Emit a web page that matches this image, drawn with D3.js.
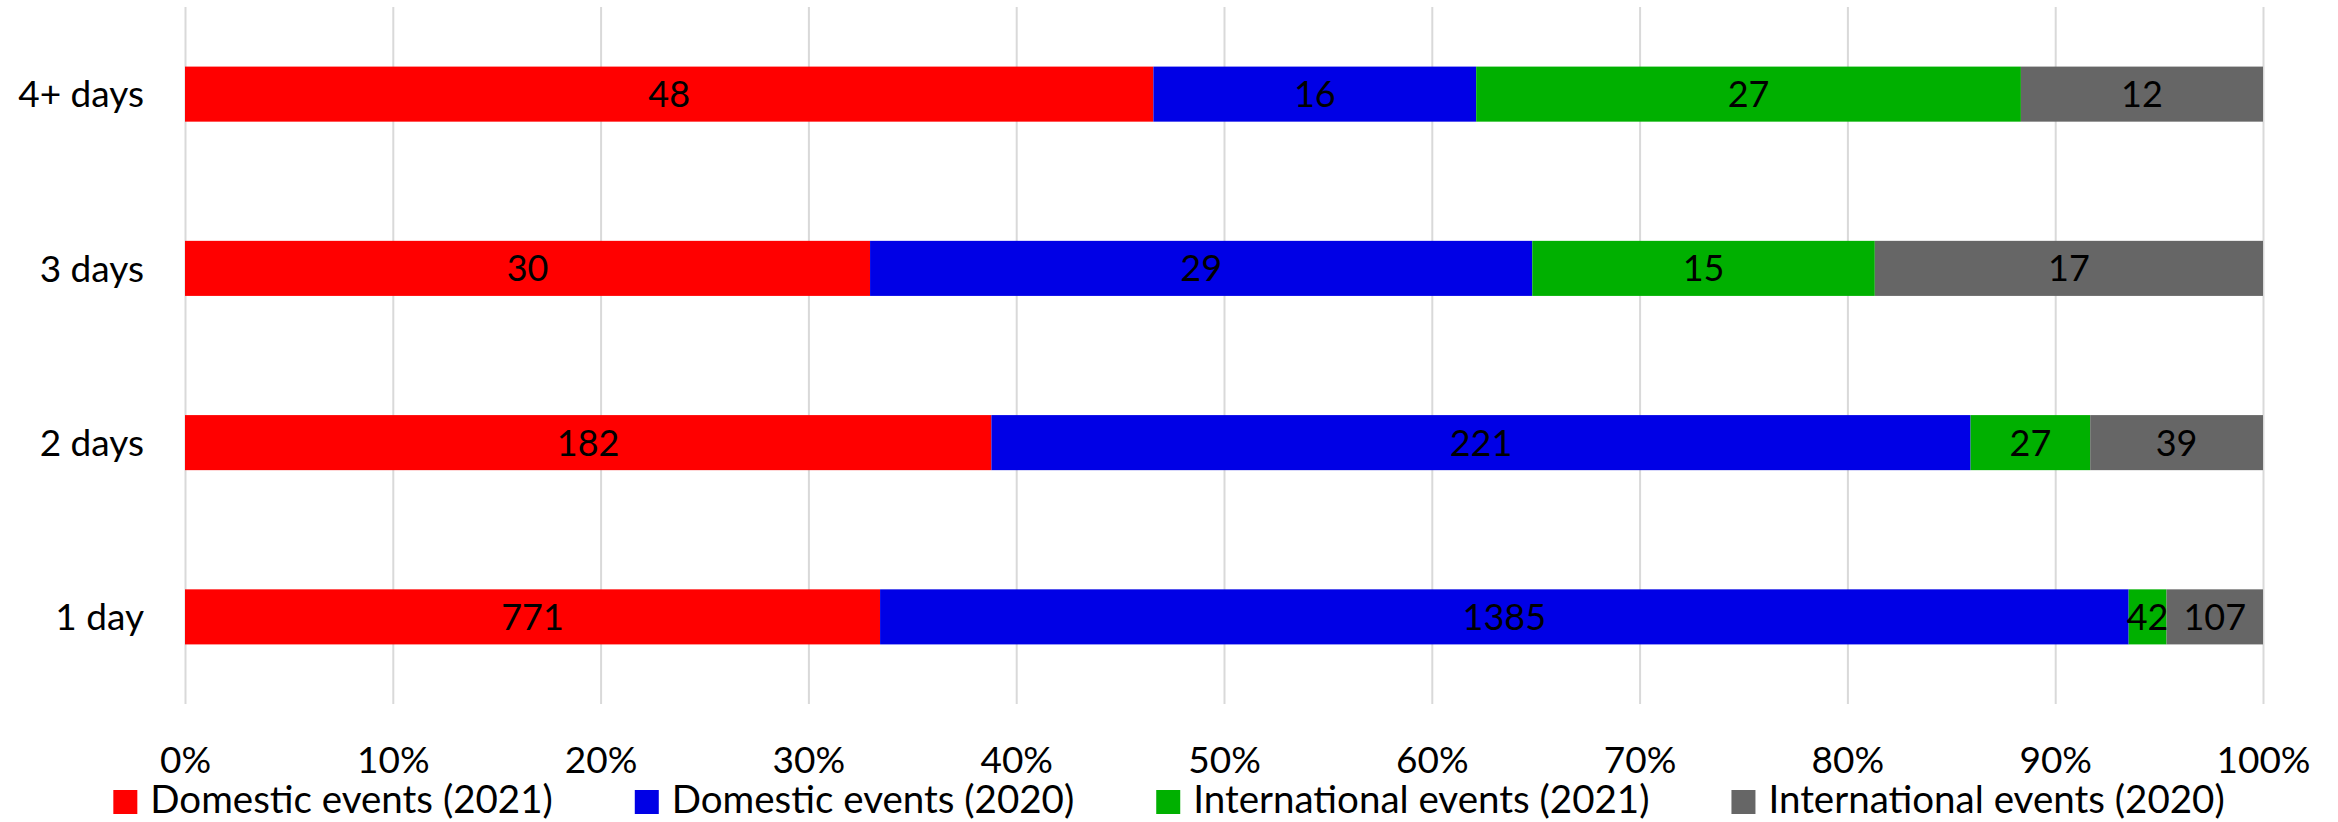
<!DOCTYPE html>
<html>
<head>
<meta charset="utf-8">
<script src="https://cdn.jsdelivr.net/npm/d3@7"></script>
<style>
  body { margin: 0; background: #fff; }
  text { font-family: Lato, "Noto Sans", sans-serif; fill: #000; }
</style>
</head>
<body>
<div id="chart"></div>
<script>
// Data
const categories = ['1 day', '2 days', '3 days', '4+ days'];
const seriesNames = ['Domestic events (2021)', 'Domestic events (2020)', 'International events (2021)', 'International events (2020)'];
const domestic2021 = [771, 182, 30, 48];
const domestic2020 = [1385, 221, 29, 16];
const international2021 = [42, 27, 15, 27];
const international2020 = [107, 39, 17, 12];
const tickValues = [0, 0.1, 0.2, 0.3, 0.4, 0.5, 0.6, 0.7, 0.8, 0.9, 1];

const colors = ['#ff0000', '#0000e6', '#00b000', '#666666'];

// Layout
const width = 2338;
const height = 822;
const margin = { top: 7, left: 185, right: 75, bottom: 118 };
const innerWidth = width - margin.left - margin.right;
const innerHeight = height - margin.top - margin.bottom;
const fontSize = 36;
const legendFontSize = 38.5;

const svg = d3.select('#chart')
    .append('svg')
        .attr('width', width)
        .attr('height', height);

const chartGroup = svg.append('g')
    .attr('transform', `translate(${margin.left}, ${margin.top})`);

// build rows, each row = one category
const table = categories.map((c, i) => {
    const row = { category: c };
    row[seriesNames[0]] = domestic2021[i];
    row[seriesNames[1]] = domestic2020[i];
    row[seriesNames[2]] = international2021[i];
    row[seriesNames[3]] = international2020[i];
    return row;
});

const stack = d3.stack()
    .keys(seriesNames)
    .offset(d3.stackOffsetExpand);
const stacked = stack(table);

// Scales
const xScale = d3.scaleLinear()
    .domain([0, 1])
    .range([0, innerWidth]);

const yScale = d3.scaleBand()
    .domain(categories)
    .range([innerHeight, 0])
    .paddingInner(0.684)
    .paddingOuter(0.342);

// Gridlines
chartGroup.append('g')
    .attr('transform', `translate(0, ${innerHeight})`)
    .call(d3.axisBottom(xScale).tickValues(tickValues).tickSize(-innerHeight).tickFormat(''))
    .call(g => g.select('.domain').remove())
    .call(g => g.selectAll('line').attr('stroke', '#d9d9d9').attr('stroke-width', 2));

// X tick labels
chartGroup.append('g')
    .attr('transform', `translate(0, ${innerHeight})`)
    .call(d3.axisBottom(xScale).tickValues(tickValues).tickSize(0).tickFormat(d3.format('.0%')))
    .call(g => g.select('.domain').remove())
    .call(g => g.selectAll('text')
        .attr('y', 69)
        .attr('dy', 0)
        .attr('fill', '#000')
        .style('font-size', '37px')
        .style('font-family', 'Lato, sans-serif'));

// Y category labels
chartGroup.append('g')
    .call(d3.axisLeft(yScale).tickSize(0).tickPadding(41))
    .call(g => g.select('.domain').remove())
    .call(g => g.selectAll('text')
        .attr('dy', '0.36em')
        .attr('fill', '#000')
        .style('font-size', '37px')
        .style('font-family', 'Lato, sans-serif'));

// Bars
const seriesGroup = chartGroup.selectAll('g.series')
    .data(stacked)
    .enter().append('g')
        .attr('class', 'series')
        .attr('fill', (d, i) => colors[i]);

seriesGroup.selectAll('rect')
    .data(d => d.map(p => ({ p, key: d.key })))
    .enter().append('rect')
        .attr('x', d => xScale(d.p[0]))
        .attr('y', d => yScale(d.p.data.category))
        .attr('width', d => xScale(d.p[1]) - xScale(d.p[0]))
        .attr('height', yScale.bandwidth());

// Data labels
seriesGroup.selectAll('text')
    .data(d => d.map(p => ({ p, key: d.key })))
    .enter().append('text')
        .attr('x', d => (xScale(d.p[0]) + xScale(d.p[1])) / 2)
        .attr('y', d => yScale(d.p.data.category) + yScale.bandwidth() / 2)
        .attr('dy', '0.36em')
        .attr('text-anchor', 'middle')
        .style('font-size', fontSize + 'px')
        .text(d => d.p.data[d.key]);

// Legend
const legend = svg.append('g').attr('class', 'legend');
const legendItems = legend.selectAll('g')
    .data(seriesNames)
    .enter().append('g');

legendItems.append('rect')
    .attr('width', 24)
    .attr('height', 24)
    .attr('y', -23)
    .attr('fill', (d, i) => colors[i]);

legendItems.append('text')
    .attr('x', 37)
    .style('font-size', legendFontSize + 'px')
    .text(d => d);

let legendX = 0;
const itemGap = 82;
legendItems.each(function() {
    const w = 37 + d3.select(this).select('text').node().getComputedTextLength();
    d3.select(this).attr('transform', `translate(${legendX}, 0)`);
    legendX += w + itemGap;
});
const legendWidth = legendX - itemGap;
legend.attr('transform', `translate(${(width - legendWidth) / 2}, 813)`);
</script>
</body>
</html>
